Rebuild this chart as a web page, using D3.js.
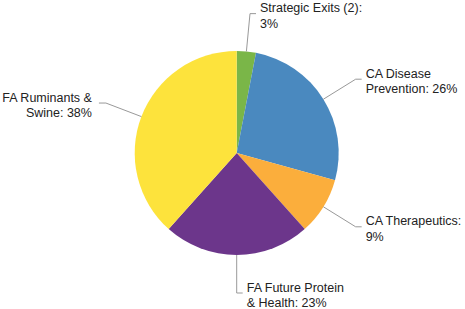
<!DOCTYPE html>
<meta charset="utf-8">
<style>
body { margin: 0; background: #fff; }
.lbl text { font: 12.5px "Liberation Sans", Arial, sans-serif; fill: #222; }
.leader { fill: none; stroke: #999; stroke-width: 1px; }
</style>
<body>
<script src="https://d3js.org/d3.v7.min.js"></script>
<script>

// chart values
var categories = ["Strategic Exits (2)", "CA Disease Prevention", "CA Therapeutics", "FA Future Protein & Health", "FA Ruminants & Swine"];
var values = [3, 26, 9, 23, 38];
var labelLines = [
	["Strategic Exits (2):", "3%"],
	["CA Disease", "Prevention: 26%"],
	["CA Therapeutics:", "9%"],
	["FA Future Protein", "& Health: 23%"],
	["FA Ruminants &", "Swine: 38%"]
];
var colors = ["#7ab648", "#4a89bf", "#fbae3c", "#6c368b", "#fde33c"];

var width = 465, height = 309;
var cx = 236.7, cy = 153, radius = 102, elbowR = 140;

var svg = d3.select("body").append("svg")
	.attr("width", width)
	.attr("height", height);

var g = svg.append("g")
	.attr("transform", "translate(" + cx + "," + cy + ")");

var pie = d3.pie().sort(null).value(function(d) { return d; });
var arcs = pie(values);

var arc = d3.arc().innerRadius(0).outerRadius(radius);

g.selectAll(".slice")
	.data(arcs)
	.enter().append("path")
		.attr("class", "slice")
		.attr("d", arc)
		.attr("fill", function(d, i) { return colors[i]; });

// leader lines + labels
function mid(d) { return (d.startAngle + d.endAngle) / 2; }

var lbl = g.selectAll(".lbl")
	.data(arcs)
	.enter().append("g")
		.attr("class", "lbl");

lbl.append("polyline")
	.attr("class", "leader")
	.attr("points", function(d) {
		var a = mid(d);
		var x0 = Math.sin(a) * radius, y0 = -Math.cos(a) * radius;
		var x1 = Math.sin(a) * elbowR, y1 = -Math.cos(a) * elbowR;
		var right = x1 >= -1;
		var x2 = x1 + (right ? 6 : -7);
		return [[x0, y0], [x1, y1], [x2, y1]].join(" ");
	});

lbl.append("text")
	.attr("text-anchor", function(d) {
		return Math.sin(mid(d)) * elbowR >= -1 ? "start" : "end";
	})
	.attr("transform", function(d) {
		var a = mid(d);
		var x1 = Math.sin(a) * elbowR, y1 = -Math.cos(a) * elbowR;
		var right = x1 >= -1;
		return "translate(" + (x1 + (right ? 10 : -14)) + "," + y1 + ")";
	})
	.selectAll("tspan")
	.data(function(d, i) { return labelLines[i]; })
	.enter().append("tspan")
		.attr("x", 0)
		.attr("y", function(d, j) { return j === 0 ? -1.5 : 14; })
		.text(function(d) { return d; });

</script>
</body>
